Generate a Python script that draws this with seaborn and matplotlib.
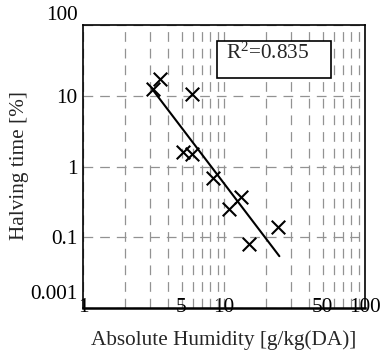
import numpy as np
import pandas as pd
import matplotlib
matplotlib.use("Agg")
import matplotlib.pyplot as plt
import matplotlib.ticker as mticker
from matplotlib.patches import Rectangle
from matplotlib.transforms import ScaledTranslation
import seaborn as sns

# ---- data ----
humidity = [3.15, 3.52, 5.9, 5.15, 5.9, 8.4, 10.9, 13.3, 15.1, 24.3]
halving = [12.4, 17.1, 10.6, 1.61, 1.52, 0.68, 0.25, 0.37, 0.079, 0.14]
fit_x = [3.07, 24.7]
fit_y = [12.7, 0.054]
r2_text = r"R$^{2}$=0.835"
x_ticks = [1, 5, 10, 50, 100]
x_ticklabels = ["1", "5", "10", "50", "100"]
y_ticks = [100, 10, 1, 0.1, 0.01]
y_ticklabels = ["100", "10", "1", "0.1", "0.001"]
xlabel = "Absolute Humidity [g/kg(DA)]"
ylabel = "Halving time [%]"

sns.set_style("white")
plt.rcParams["font.family"] = ["Liberation Serif", "DejaVu Serif"]
plt.rcParams["mathtext.fontset"] = "custom"
plt.rcParams["mathtext.rm"] = "Liberation Serif"
plt.rcParams["mathtext.it"] = "Liberation Serif:italic"
plt.rcParams["mathtext.default"] = "rm"
plt.rcParams["lines.scale_dashes"] = False
FS = 15.3

df = pd.DataFrame({"x": humidity, "y": halving})
fit = pd.DataFrame({"x": fit_x, "y": fit_y})

fig = plt.figure(figsize=(3.81, 3.51), dpi=100)
ax = fig.add_axes([83 / 381, 43 / 351, 282 / 381, 283 / 351])

ax.set_xscale("log")
ax.set_yscale("log")
ax.set_xlim(1, 100)
ax.set_ylim(0.01, 100)

sns.lineplot(data=fit, x="x", y="y", ax=ax, color="black", lw=1.5, zorder=3)
sns.scatterplot(data=df, x="x", y="y", ax=ax, marker="x", s=95, color="black",
                linewidth=1.5, zorder=4)

# grid
ax.xaxis.set_major_locator(mticker.FixedLocator(x_ticks))
ax.xaxis.set_major_formatter(mticker.FixedFormatter(x_ticklabels))
ax.xaxis.set_minor_locator(mticker.LogLocator(base=10, subs=np.arange(2, 10)))
ax.xaxis.set_minor_formatter(mticker.NullFormatter())
ax.yaxis.set_major_locator(mticker.FixedLocator(y_ticks))
ax.yaxis.set_major_formatter(mticker.FixedFormatter(y_ticklabels))
ax.yaxis.set_minor_locator(mticker.NullLocator())

grid_kw = dict(color="#929292", lw=0.9, linestyle=(0, (7, 5)))
ax.grid(True, which="both", axis="x", **grid_kw)
ax.grid(True, which="major", axis="y", **grid_kw)
ax.set_axisbelow(True)

ax.tick_params(axis="both", which="both", length=0, labelsize=FS, colors="black")
ax.tick_params(axis="x", pad=0)
ax.tick_params(axis="y", pad=4)
for lab in ax.get_xticklabels():
    lab.set_va("center")

ylabs = ax.get_yticklabels()
for lab in ylabs:
    if lab.get_text() in ("100", "0.001"):
        lab.set_va("bottom")
ylabs[-1].set_transform(ylabs[-1].get_transform() + ScaledTranslation(0, 4 / 100, fig.dpi_scale_trans))

for s in ax.spines.values():
    s.set_color("black")
    s.set_linewidth(1.2)
ax.spines["bottom"].set_linewidth(1.8)

ax.set_xlabel(xlabel, fontsize=FS)
ax.set_ylabel(ylabel, fontsize=FS)
ax.xaxis.set_label_coords(0.5, -0.08)
ax.yaxis.set_label_coords(-0.19, 0.505)

# R^2 box
ax.add_patch(Rectangle((0.474, 0.812), 0.404, 0.131, transform=ax.transAxes,
                       fill=True, facecolor="white", edgecolor="black", lw=1.2, zorder=5))
ax.text(0.656, 0.90, r2_text, transform=ax.transAxes, ha="center", va="center",
        fontsize=FS, zorder=6)

fig.savefig("out.png", dpi=100)
